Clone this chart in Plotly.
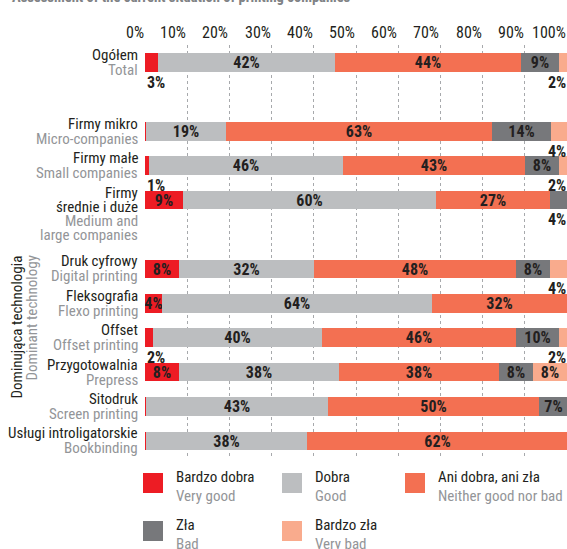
import plotly.graph_objects as go

# ---------------- data ----------------
row_pl = ["Ogółem", "Firmy mikro", "Firmy małe", "Firmy<br>średnie i duże",
          "Druk cyfrowy", "Fleksografia", "Offset", "Przygotowalnia",
          "Sitodruk", "Usługi introligatorskie"]
row_en = ["Total", "Micro-companies", "Small companies", "Medium and<br>large companies",
          "Digital printing", "Flexo printing", "Offset printing", "Prepress",
          "Screen printing", "Bookbinding"]
row_pos = [0, 2, 3, 4, 6, 7, 8, 9, 10, 11]

cat_pl = ["Bardzo dobra", "Dobra", "Ani dobra, ani zła", "Zła", "Bardzo zła"]
cat_en = ["Very good", "Good", "Neither good nor bad", "Bad", "Very bad"]

very_good = [3, 0.3, 1, 9, 8, 4, 2, 8, 0.3, 0.3]
good      = [42, 19, 46, 60, 32, 64, 40, 38, 43, 38]
neither   = [44, 63, 43, 27, 48, 32, 46, 38, 50, 62]
bad       = [9, 14, 8, 4, 8, 0, 10, 8, 7, 0]
very_bad  = [2, 4, 2, 0, 4, 0, 2, 8, 0, 0]
series = [very_good, good, neither, bad, very_bad]

tick_vals = [0, 10, 20, 30, 40, 50, 60, 70, 80, 90, 100]
tick_text = [f"{v}%" for v in tick_vals]

title_text = "Assessment of the current situation of printing companies"
side_pl = "Dominująca technologia"
side_en = "Dominant technology"

# ---------------- style ----------------
colors = ["#ed1c24", "#bcbec0", "#f37052", "#77787b", "#f9ab8d"]
FONT = "Roboto Condensed, DejaVu Sans Condensed, Roboto, sans-serif"
DARK = "#231f20"
GREY = "#939598"
W, H = 567, 549
ML, MR, MT, MB = 145, 0, 45, 92
PW, PH = W - ML - MR, H - MT - MB
BAR_W = 0.54

def px2x(px):
    return (px - ML) / PW

def px2y(py):
    return (H - MB - py) / PH

# labels placed below the bar (left start or right end) instead of inside
below_left = {(0, 0), (2, 0), (6, 0)}           # (row index, category)
below_right = {(0, 4), (1, 4), (2, 4), (3, 3), (4, 4), (6, 4)}

LBL = dict(family=FONT, size=16, color=DARK, weight="bold")

fig = go.Figure()
annotations = []
for ci, vals in enumerate(series):
    texts = []
    for ri, v in enumerate(vals):
        if v >= 1 and (ri, ci) not in below_left and (ri, ci) not in below_right:
            texts.append(f"{v:g}%")
        else:
            texts.append("")
        if (ri, ci) in below_left:
            annotations.append(dict(x=0, y=row_pos[ri] + BAR_W / 2, xref="x", yref="y",
                                    text=f"{v:g}%", showarrow=False, xanchor="left",
                                    yanchor="top", yshift=1, font=LBL))
        if (ri, ci) in below_right:
            annotations.append(dict(x=100, y=row_pos[ri] + BAR_W / 2, xref="x", yref="y",
                                    text=f"{v:g}%", showarrow=False, xanchor="right",
                                    yanchor="top", yshift=1, xshift=1, font=LBL))
    fig.add_trace(go.Bar(
        y=row_pos, x=vals, orientation="h", name=cat_pl[ci],
        marker=dict(color=colors[ci], line=dict(width=0)),
        width=BAR_W, text=texts, textposition="inside", insidetextanchor="middle",
        textangle=0, constraintext="none", textfont=LBL,
        showlegend=False, hoverinfo="skip"))

# top tick labels, right aligned to grid lines
for v, t in zip(tick_vals, tick_text):
    annotations.append(dict(x=v, y=1, xref="x", yref="paper", text=t, showarrow=False,
                            xanchor="right", yanchor="bottom", yshift=1, xshift=1,
                            font=dict(family=FONT, size=16, color=DARK)))

# row labels
for ri, (pl, en) in enumerate(zip(row_pl, row_en)):
    lines = [(s, DARK) for s in pl.split("<br>")] + [(s, GREY) for s in en.split("<br>")]
    nb = len(pl.split("<br>"))
    if nb == 1:
        sp = 15
        start = -(len(lines) - 1) / 2 * sp
    else:
        sp = 14
        start = -(nb - 1) / 2 * sp
    for k, (s, c) in enumerate(lines):
        annotations.append(dict(x=0, y=row_pos[ri], xref="paper", yref="y", text=s,
                                showarrow=False, xanchor="right", yanchor="middle",
                                xshift=-5, yshift=-(start + k * sp),
                                font=dict(family=FONT, size=15, color=c)))

# side group label
annotations.append(dict(x=px2x(16), y=px2y(254), xref="paper", yref="paper", text=side_pl,
                        showarrow=False, textangle=-90, xanchor="center", yanchor="top",
                        font=dict(family=FONT, size=15, color=DARK)))
annotations.append(dict(x=px2x(31), y=px2y(254), xref="paper", yref="paper", text=side_en,
                        showarrow=False, textangle=-90, xanchor="center", yanchor="top",
                        font=dict(family=FONT, size=15, color=GREY)))

# title (partly cut off at the top)
annotations.append(dict(x=px2x(10), y=px2y(8), xref="paper", yref="paper", text=title_text,
                        showarrow=False, xanchor="left", yanchor="bottom",
                        font=dict(family=FONT, size=14.5, color="#808285", weight="bold")))

# custom legend
shapes = []
leg_pos = [(143, 473), (282, 473), (405, 473), (143, 521), (282, 521)]
for ci, (lx, ly) in enumerate(leg_pos):
    shapes.append(dict(type="rect", xref="paper", yref="paper",
                       x0=px2x(lx), x1=px2x(lx + 20), y0=px2y(ly), y1=px2y(ly + 20),
                       fillcolor=colors[ci], line=dict(width=0)))
    annotations.append(dict(x=px2x(lx + 31), y=px2y(ly + 4), xref="paper", yref="paper",
                            text=cat_pl[ci], showarrow=False, xanchor="left", yanchor="middle",
                            font=dict(family=FONT, size=15, color=DARK)))
    annotations.append(dict(x=px2x(lx + 31), y=px2y(ly + 23), xref="paper", yref="paper",
                            text=cat_en[ci], showarrow=False, xanchor="left", yanchor="middle",
                            font=dict(family=FONT, size=15, color=GREY)))

fig.update_layout(
    width=W, height=H, barmode="stack", bargap=0,
    margin=dict(l=ML, r=MR, t=MT, b=MB, pad=0),
    paper_bgcolor="white", plot_bgcolor="white",
    xaxis=dict(range=[0, 100], tickvals=tick_vals, showticklabels=False, showgrid=True,
               gridcolor="#a7a9ac", gridwidth=1, griddash="3px,3px", zeroline=False,
               showline=False, ticks=""),
    yaxis=dict(range=[11.47, -0.51], showticklabels=False, showgrid=False, zeroline=False,
               showline=False, ticks=""),
    annotations=annotations, shapes=shapes,
    font=dict(family=FONT),
)

fig.write_html("out.html", config={"displayModeBar": False},
               post_script="document.body.style.margin='0';")
